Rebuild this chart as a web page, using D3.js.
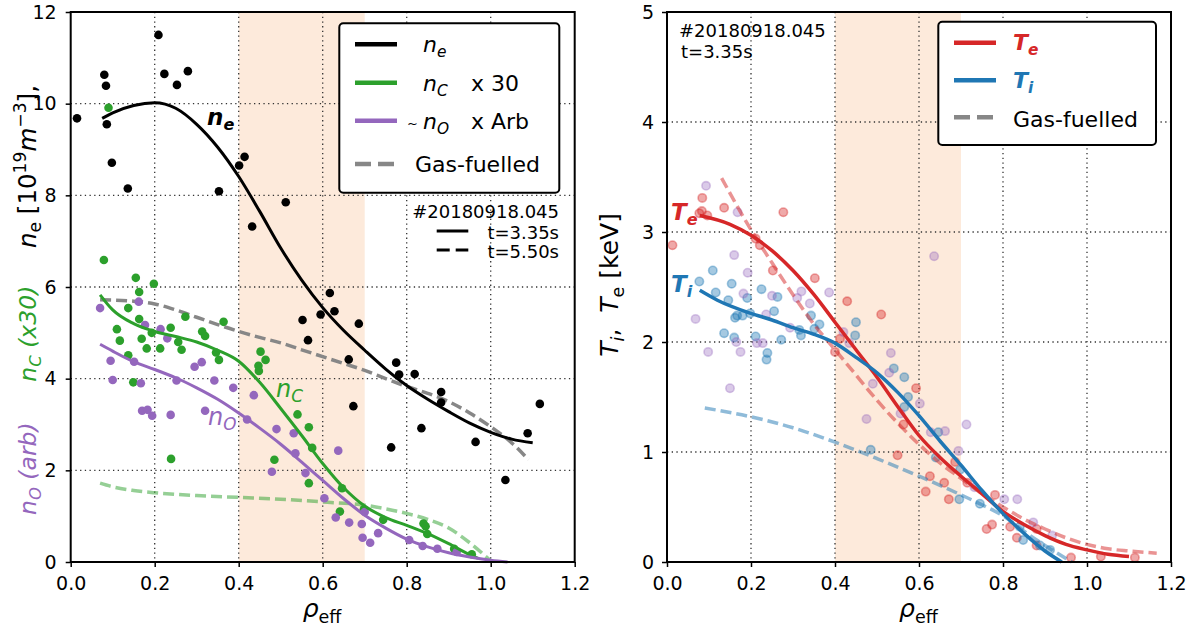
<!DOCTYPE html>
<html>
<head>
<meta charset="utf-8">
<script src="https://cdn.jsdelivr.net/npm/d3@7"></script>
<style>
  body { margin:0; background:#fff; }
  svg { display:block; font-family: "DejaVu Sans", sans-serif; }
  text { white-space: pre; }
</style>
</head>
<body>
<svg id="chart" width="1194" height="630"></svg>
<script>
// ---- left panel: densities ----
var nePts = [[0.015,9.68],[0.08,10.63],[0.084,10.39],[0.086,9.55],[0.098,8.71],[0.136,8.15],[0.209,11.5],[0.223,10.65],
  [0.253,10.41],[0.279,10.71],[0.353,8.09],[0.401,8.65],[0.414,8.84],[0.432,7.32],[0.512,7.85],[0.552,5.28],[0.565,4.84],
  [0.595,5.40],[0.617,5.87],[0.628,5.47],[0.662,4.42],[0.673,3.40],[0.686,5.20],[0.763,2.50],[0.775,4.35],[0.782,4.09],
  [0.819,4.10],[0.835,2.92],[0.882,3.71],[0.882,3.48],[0.964,2.62],[1.035,1.79],[1.088,2.81],[1.117,3.45]];
var neFit = [[0.075,9.68],[0.1,9.8],[0.15,9.96],[0.2,10.02],[0.25,9.9],[0.3,9.55],[0.35,9.05],[0.4,8.41],[0.45,7.65],
  [0.5,6.85],[0.55,6.15],[0.6,5.55],[0.65,5.05],[0.7,4.62],[0.75,4.21],[0.8,3.85],[0.85,3.55],[0.9,3.28],[0.95,3.03],
  [1.0,2.83],[1.05,2.68],[1.1,2.6]];
var neGas = [[0.07,5.72],[0.15,5.69],[0.2,5.63],[0.25,5.5],[0.3,5.34],[0.35,5.18],[0.4,5.03],[0.45,4.9],[0.5,4.78],
  [0.55,4.63],[0.6,4.48],[0.65,4.33],[0.7,4.18],[0.75,4.0],[0.8,3.83],[0.85,3.68],[0.9,3.5],[0.95,3.25],[1.0,2.95],
  [1.05,2.6],[1.09,2.23]];
var ncPts = [[0.079,6.59],[0.09,9.91],[0.155,6.20],[0.163,5.89],[0.198,6.07],[0.137,5.54],[0.11,5.08],[0.117,4.83],[0.137,4.51],
  [0.149,3.92],[0.163,5.30],[0.169,4.87],[0.181,4.66],[0.193,5.00],[0.213,4.66],[0.238,5.11],[0.256,4.80],[0.264,4.63],
  [0.273,5.35],[0.313,5.03],[0.32,4.93],[0.346,4.57],[0.353,4.41],[0.364,5.24],[0.239,2.25],[0.452,4.59],[0.464,4.41],
  [0.447,4.28],[0.448,4.17],[0.485,2.23],[0.54,3.22],[0.567,2.94],[0.575,2.49],[0.567,1.72],[0.646,1.61],[0.641,1.10],
  [0.698,1.15],[0.744,0.92],[0.84,0.84],[0.845,0.78],[0.849,0.61],[0.913,0.29],[0.955,0.17]];
var ncFit = [[0.07,5.83],[0.1,5.5],[0.15,5.2],[0.2,5.03],[0.25,4.92],[0.3,4.8],[0.35,4.62],[0.4,4.38],[0.45,3.92],
  [0.5,3.35],[0.55,2.76],[0.6,2.15],[0.65,1.62],[0.7,1.22],[0.75,0.97],[0.8,0.8],[0.85,0.62],[0.9,0.4],[0.95,0.16],
  [0.97,0.08]];
var ncGas = [[0.07,1.72],[0.1,1.64],[0.15,1.56],[0.2,1.51],[0.3,1.45],[0.4,1.41],[0.5,1.37],[0.6,1.31],[0.7,1.24],
  [0.75,1.16],[0.8,1.06],[0.85,0.93],[0.9,0.74],[0.95,0.42],[0.998,0.04]];
var noPts = [[0.07,5.54],[0.095,4.39],[0.1,3.97],[0.151,4.37],[0.162,5.68],[0.167,3.90],[0.17,3.30],[0.177,5.17],[0.183,3.32],
  [0.194,3.19],[0.214,5.08],[0.23,4.88],[0.238,3.21],[0.252,3.96],[0.295,4.26],[0.312,4.36],[0.32,3.30],[0.342,3.96],
  [0.387,3.80],[0.436,3.64],[0.42,3.11],[0.479,1.97],[0.49,2.90],[0.531,2.81],[0.535,2.37],[0.559,1.94],[0.604,1.39],
  [0.637,2.43],[0.631,0.97],[0.663,0.86],[0.693,0.83],[0.7,1.09],[0.695,0.53],[0.713,0.42],[0.732,0.63],[0.806,0.48],
  [0.838,0.35],[0.873,0.29],[0.919,0.22]];
var noFit = [[0.07,4.75],[0.1,4.6],[0.15,4.37],[0.2,4.2],[0.25,4.02],[0.3,3.8],[0.35,3.55],[0.4,3.25],[0.45,2.92],
  [0.5,2.57],[0.55,2.18],[0.6,1.78],[0.65,1.38],[0.7,1.02],[0.75,0.74],[0.8,0.5],[0.85,0.33],[0.9,0.2],[0.95,0.11],
  [1.0,0.04],[1.04,0.0]];

// ---- right panel: temperatures ----
var tePts = [[0.013,2.88],[0.077,3.17],[0.083,3.19],[0.084,3.31],[0.096,3.15],[0.136,3.22],[0.211,2.94],[0.221,2.88],
  [0.252,2.65],[0.277,3.18],[0.352,2.58],[0.4,1.91],[0.412,2.03],[0.429,2.37],[0.51,2.25],[0.549,0.97],[0.563,1.25],
  [0.593,1.58],[0.616,0.64],[0.626,0.78],[0.66,0.72],[0.671,0.57],[0.686,0.91],[0.715,0.72],[0.761,0.30],[0.774,0.34],
  [0.781,0.61],[0.817,0.32],[0.833,0.22],[0.88,0.30],[0.88,0.15],[0.962,0.04],[1.033,0.05],[1.114,0.04]];
var tiPts = [[0.077,2.55],[0.109,2.65],[0.116,2.45],[0.136,2.08],[0.146,2.38],[0.154,2.53],[0.16,2.04],[0.162,2.22],
  [0.167,2.24],[0.18,2.24],[0.191,2.40],[0.198,2.26],[0.211,2.05],[0.225,2.48],[0.237,1.84],[0.239,1.90],[0.255,2.28],
  [0.263,2.41],[0.272,2.02],[0.315,2.11],[0.319,2.06],[0.343,2.24],[0.351,2.12],[0.363,2.16],[0.448,2.06],[0.45,2.18],
  [0.485,1.02],[0.54,1.76],[0.565,1.68],[0.565,1.41],[0.574,1.50],[0.64,0.95],[0.646,1.18],[0.696,0.57],[0.698,0.84],
  [0.745,0.53],[0.84,0.32],[0.848,0.20],[0.888,0.15],[0.912,0.11]];
var ti2Pts = [[0.068,2.21],[0.093,3.42],[0.098,1.91],[0.15,1.58],[0.16,2.79],[0.165,2.0],[0.168,3.18],[0.175,1.91],
  [0.182,2.44],[0.192,2.63],[0.214,1.99],[0.228,1.99],[0.236,2.25],[0.25,2.42],[0.293,2.13],[0.31,2.40],[0.32,2.46],
  [0.34,2.35],[0.386,2.45],[0.42,2.09],[0.434,1.99],[0.475,1.30],[0.49,1.62],[0.529,1.72],[0.533,1.90],[0.556,1.35],
  [0.602,1.44],[0.628,1.18],[0.636,2.78],[0.662,1.19],[0.694,1.01],[0.713,1.25],[0.732,0.68],[0.803,0.57],[0.834,0.57],
  [0.872,0.36],[0.917,0.24]];
var teFit = [[0.078,3.15],[0.15,3.07],[0.2,2.97],[0.25,2.83],[0.3,2.65],[0.35,2.43],[0.4,2.18],[0.45,1.93],[0.5,1.68],
  [0.55,1.41],[0.6,1.15],[0.65,0.95],[0.7,0.78],[0.75,0.62],[0.8,0.46],[0.85,0.34],[0.9,0.24],[0.95,0.16],[1.0,0.11],
  [1.05,0.07],[1.1,0.05]];
var tiFit = [[0.078,2.47],[0.12,2.38],[0.2,2.26],[0.25,2.2],[0.3,2.13],[0.35,2.07],[0.4,1.99],[0.45,1.86],[0.5,1.72],
  [0.55,1.54],[0.6,1.33],[0.65,1.1],[0.7,0.88],[0.75,0.65],[0.8,0.44],[0.85,0.26],[0.9,0.1],[0.94,0.0]];
var teGas = [[0.13,3.49],[0.2,3.02],[0.25,2.72],[0.3,2.43],[0.35,2.16],[0.4,1.93],[0.45,1.7],[0.5,1.47],[0.55,1.26],
  [0.6,1.07],[0.65,0.9],[0.7,0.76],[0.75,0.62],[0.8,0.5],[0.85,0.39],[0.9,0.3],[0.95,0.22],[1.0,0.16],[1.05,0.12],
  [1.1,0.1],[1.166,0.08]];
var tiGas = [[0.09,1.4],[0.2,1.32],[0.3,1.22],[0.4,1.09],[0.5,0.94],[0.6,0.78],[0.7,0.61],[0.75,0.52],[0.8,0.42],
  [0.85,0.28],[0.9,0.15],[0.964,0.0]];

var xTicks = [0, 0.2, 0.4, 0.6, 0.8, 1.0, 1.2];
var nTicks = [0, 2, 4, 6, 8, 10, 12];
var tTicks = [0, 1, 2, 3, 4, 5];
var band = [0.4, 0.7];

var svg = d3.select("#chart");
var C = { green: "#2ca02c", purple: "#9467bd", red: "#d62728", blue: "#1f77b4" };

// text with mathtext-like sub/superscripts
function rich(sel, parts, size) {
  var shift = 0;
  parts.forEach(function (p) {
    var small = p.sub || p.sup;
    var target = p.sub ? size * 0.22 : p.sup ? -size * 0.42 : 0;
    var ts = sel.append("tspan").text(p.t).attr("font-size", small ? size * 0.7 : size);
    if (target !== shift) { ts.attr("dy", target - shift); shift = target; }
    if (p.i) ts.attr("font-style", "italic");
    if (p.b) ts.attr("font-weight", "bold");
    if (p.fill) ts.attr("fill", p.fill);
  });
  return sel;
}

function makePanel(left, right, yMax, ticksY) {
  var x = d3.scaleLinear().domain([0, 1.2]).range([left, right]);
  var y = d3.scaleLinear().domain([0, yMax]).range([562, 12]);
  var g = svg.append("g");
  g.append("rect").attr("x", x(band[0])).attr("y", 12).attr("width", x(band[1]) - x(band[0]))
    .attr("height", 550).attr("fill", "#fdeadb");
  var grid = g.append("g").attr("stroke", "#333").attr("stroke-width", 1.3).attr("stroke-dasharray", "1.3,3.4");
  xTicks.slice(1, -1).forEach(function (t) {
    grid.append("line").attr("x1", x(t)).attr("x2", x(t)).attr("y1", 12).attr("y2", 562);
  });
  ticksY.slice(1, -1).forEach(function (t) {
    grid.append("line").attr("x1", left).attr("x2", right).attr("y1", y(t)).attr("y2", y(t));
  });
  return { g: g, x: x, y: y, left: left, right: right };
}

function finishPanel(p, ticksY, pad) {
  var ax = p.g.append("g").attr("transform", "translate(0,562)")
    .call(d3.axisBottom(p.x).tickValues(xTicks).tickFormat(d3.format(".1f")).tickSize(5).tickPadding(10));
  var ay = p.g.append("g").attr("transform", "translate(" + p.left + ",0)")
    .call(d3.axisLeft(p.y).tickValues(ticksY).tickFormat(d3.format("d")).tickSize(5).tickPadding(pad));
  [ax, ay].forEach(function (a) {
    a.select(".domain").remove();
    a.selectAll("line").attr("stroke", "#000").attr("stroke-width", 1.5);
    a.selectAll("text").attr("font-size", 19).attr("fill", "#000").attr("font-family", "DejaVu Sans");
  });
  p.g.append("rect").attr("x", p.left).attr("y", 12).attr("width", p.right - p.left).attr("height", 550)
    .attr("fill", "none").attr("stroke", "#000").attr("stroke-width", 2);
  rich(p.g.append("text").attr("x", (p.left + p.right) / 2 - 20).attr("y", 617),
    [{ t: "\u03c1", i: true }, { t: "eff", sub: true }], 25);
}

function curve(p, data, color, width, dash, opacity) {
  var line = d3.line().x(function (d) { return p.x(d[0]); }).y(function (d) { return p.y(d[1]); })
    .curve(d3.curveMonotoneX);
  p.g.append("path").datum(data).attr("d", line).attr("fill", "none").attr("stroke", color)
    .attr("stroke-width", width).attr("stroke-dasharray", dash || null).attr("stroke-opacity", opacity || 1);
}

function dots(p, data, color, r, alpha) {
  p.g.append("g").selectAll("circle").data(data).enter().append("circle")
    .attr("cx", function (d) { return p.x(d[0]); }).attr("cy", function (d) { return p.y(d[1]); })
    .attr("r", r).attr("fill", color).attr("fill-opacity", alpha || 1)
    .attr("stroke", alpha ? color : "none").attr("stroke-width", 1.6).attr("stroke-opacity", alpha || 1);
}

// ===== left panel =====
var L = makePanel(70.7, 574.7, 12, nTicks);
curve(L, neGas, "#878787", 3.5, "11,5");
curve(L, ncGas, C.green, 3.5, "11,5", 0.5);
dots(L, nePts, "#000", 4.3);
dots(L, ncPts, C.green, 4.3);
dots(L, noPts, C.purple, 4.3);
curve(L, neFit, "#000", 3);
curve(L, ncFit, C.green, 3);
curve(L, noFit, C.purple, 3);

rich(L.g.append("text").attr("x", 207).attr("y", 125),
  [{ t: "n", i: true, b: true }, { t: "e", sub: true, i: true, b: true }], 23);
rich(L.g.append("text").attr("x", 276).attr("y", 397).attr("fill", C.green),
  [{ t: "n", i: true }, { t: "C", sub: true, i: true }], 24);
rich(L.g.append("text").attr("x", 208).attr("y", 425).attr("fill", C.purple),
  [{ t: "n", i: true }, { t: "O", sub: true, i: true }], 24);

// legend
var lg = L.g.append("g");
lg.append("rect").attr("x", 339.3).attr("y", 23.3).attr("width", 220).attr("height", 169.4).attr("rx", 4)
  .attr("fill", "#fff").attr("stroke", "#000").attr("stroke-width", 2);
var legL = [
  { y: 44.3, c: "#000", d: null },
  { y: 82.7, c: C.green, d: null },
  { y: 120.7, c: C.purple, d: null },
  { y: 164, c: "#878787", d: "16,7" }
];
legL.forEach(function (r) {
  lg.append("line").attr("x1", 355).attr("x2", 397).attr("y1", r.y).attr("y2", r.y)
    .attr("stroke", r.c).attr("stroke-width", 4.5).attr("stroke-dasharray", r.d);
});
rich(lg.append("text").attr("x", 423).attr("y", 52), [{ t: "n", i: true }, { t: "e", sub: true, i: true }], 22);
rich(lg.append("text").attr("x", 423).attr("y", 91), [{ t: "n", i: true }, { t: "C", sub: true, i: true }], 22);
lg.append("text").attr("x", 471).attr("y", 91).attr("font-size", 22).text("x 30");
lg.append("text").attr("x", 407).attr("y", 128).attr("font-size", 13).text("~");
rich(lg.append("text").attr("x", 423).attr("y", 129), [{ t: "n", i: true }, { t: "O", sub: true, i: true }], 22);
lg.append("text").attr("x", 471).attr("y", 129).attr("font-size", 22).text("x Arb");
lg.append("text").attr("x", 415).attr("y", 172).attr("font-size", 22).text("Gas-fuelled");

// shot annotation
var an = L.g.append("g").attr("font-size", 18).attr("text-anchor", "end");
an.append("text").attr("x", 559).attr("y", 218).text("#20180918.045");
an.append("text").attr("x", 559).attr("y", 239).text("t=3.35s");
an.append("text").attr("x", 559).attr("y", 258).text("t=5.50s");
L.g.append("line").attr("x1", 436.7).attr("x2", 468.3).attr("y1", 231).attr("y2", 231)
  .attr("stroke", "#000").attr("stroke-width", 3);
L.g.append("line").attr("x1", 436.7).attr("x2", 468.3).attr("y1", 250).attr("y2", 250)
  .attr("stroke", "#000").attr("stroke-width", 3).attr("stroke-dasharray", "13,6");

finishPanel(L, nTicks, 9);

// rotated y label, three coloured pieces
rich(svg.append("text").attr("transform", "translate(36,515) rotate(-90)").attr("fill", C.purple),
  [{ t: "n", i: true }, { t: "O", sub: true, i: true }, { t: " (arb)", i: true }], 23.5);
rich(svg.append("text").attr("transform", "translate(36,381.7) rotate(-90)").attr("fill", C.green),
  [{ t: "n", i: true }, { t: "C", sub: true, i: true }, { t: " (x30)", i: true }], 23.5);
rich(svg.append("text").attr("transform", "translate(36,248) rotate(-90)").attr("fill", "#000"),
  [{ t: "n", i: true }, { t: "e", sub: true }, { t: " [10" }, { t: "19", sup: true }, { t: "m", i: true },
   { t: "\u22123", sup: true }, { t: "]," }], 24.5);

// ===== right panel =====
var R = makePanel(667, 1171, 5, tTicks);
dots(R, tePts, C.red, 4.2, 0.4);
dots(R, tiPts, C.blue, 4.2, 0.4);
dots(R, ti2Pts, C.purple, 4.2, 0.35);
curve(R, teGas, C.red, 3.5, "11,5", 0.5);
curve(R, tiGas, C.blue, 3.5, "11,5", 0.5);
curve(R, teFit, C.red, 3.5);
curve(R, tiFit, C.blue, 3.5);

rich(R.g.append("text").attr("x", 671).attr("y", 220).attr("fill", C.red),
  [{ t: "T", i: true, b: true }, { t: "e", sub: true, i: true, b: true }], 23);
rich(R.g.append("text").attr("x", 671).attr("y", 292).attr("fill", C.blue),
  [{ t: "T", i: true, b: true }, { t: "i", sub: true, i: true, b: true }], 23);

R.g.append("text").attr("x", 679).attr("y", 37).attr("font-size", 18).text("#20180918.045");
R.g.append("text").attr("x", 681).attr("y", 58).attr("font-size", 18).text("t=3.35s");

var rg = R.g.append("g");
rg.append("rect").attr("x", 938.3).attr("y", 21.7).attr("width", 217.7).attr("height", 123.3).attr("rx", 4)
  .attr("fill", "#fff").attr("stroke", "#000").attr("stroke-width", 2);
[{ y: 42.7, c: C.red, d: null }, { y: 80.3, c: C.blue, d: null }, { y: 117.3, c: "#878787", d: "16,7" }]
  .forEach(function (r) {
    rg.append("line").attr("x1", 954).attr("x2", 996).attr("y1", r.y).attr("y2", r.y)
      .attr("stroke", r.c).attr("stroke-width", 4.5).attr("stroke-dasharray", r.d);
  });
rich(rg.append("text").attr("x", 1013).attr("y", 50).attr("fill", C.red),
  [{ t: "T", i: true, b: true }, { t: "e", sub: true, i: true, b: true }], 22);
rich(rg.append("text").attr("x", 1013).attr("y", 88).attr("fill", C.blue),
  [{ t: "T", i: true, b: true }, { t: "i", sub: true, i: true, b: true }], 22);
rg.append("text").attr("x", 1013).attr("y", 126.7).attr("font-size", 22).text("Gas-fuelled");

finishPanel(R, tTicks, 8);

rich(svg.append("text").attr("transform", "translate(618,356.7) rotate(-90)"),
  [{ t: "T", i: true }, { t: "i", sub: true, i: true }, { t: ",  " }, { t: "T", i: true }, { t: "e", sub: true },
   { t: " [keV]" }], 25);
</script>
</body>
</html>
